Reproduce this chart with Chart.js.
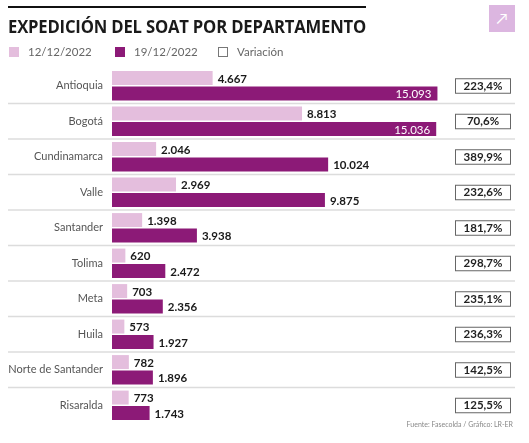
<!DOCTYPE html>
<html>
<head>
<meta charset="utf-8">
<script src="https://cdn.jsdelivr.net/npm/chart.js@4.4.0/dist/chart.umd.min.js"></script>
<style>
  html, body { margin: 0; padding: 0; background: #fff; }
  #wrap { position: relative; width: 529px; height: 443px; overflow: hidden; font-family: Lato, "Open Sans", sans-serif; }
  #topline { position: absolute; left: 8px; top: 6px; width: 358px; height: 2px; background: #111; }
  #title { position: absolute; left: 8px; top: 14px; font-family: "Open Sans", sans-serif; font-size: 18px; font-weight: 700; color: #1a1a1a; white-space: nowrap; transform-origin: left top; letter-spacing: -0.2px; }
  #btn { position: absolute; left: 489px; top: 5px; width: 26px; height: 27px; background: #dcb6e0; color: #fff; font-size: 15px; text-align: center; line-height: 27px; }
  .leg { position: absolute; top: 45px; font-size: 11.5px; color: #666; white-space: nowrap; }
  .leg i { display: inline-block; width: 10px; height: 10px; vertical-align: -1px; margin-right: 9px; box-sizing: border-box; }
  #foot { position: absolute; right: 16px; top: 420px; font-size: 7px; color: #888; white-space: nowrap; }
  #chartBox { position: absolute; left: 0; top: 0; width: 529px; height: 443px; }
</style>
</head>
<body>
<div id="wrap">
  <div id="chartBox"><canvas id="chart"></canvas></div>
  <div id="topline"></div>
  <div id="title">EXPEDICIÓN DEL SOAT POR DEPARTAMENTO</div>
  <div id="btn">&#8599;</div>
  <div class="leg" style="left:9px"><i style="background:#e4bedd"></i>12/12/2022</div>
  <div class="leg" style="left:115px"><i style="background:#8c1a77"></i>19/12/2022</div>
  <div class="leg" style="left:218px"><i style="border:1px solid #777;background:#fff"></i>Variación</div>
  <div id="foot">Fuente: Fasecolda / Gráfico: LR-ER</div>
</div>
<script>
// Expedición del SOAT por departamento
const departamentos = ['Antioquia', 'Bogotá', 'Cundinamarca', 'Valle', 'Santander', 'Tolima', 'Meta', 'Huila', 'Norte de Santander', 'Risaralda'];
const semana1 = [4667, 8813, 2046, 2969, 1398, 620, 703, 573, 782, 773];      // 12/12/2022
const semana2 = [15093, 15036, 10024, 9875, 3938, 2472, 2356, 1927, 1896, 1743]; // 19/12/2022
const variacion = ['223,4%', '70,6%', '389,9%', '232,6%', '181,7%', '298,7%', '235,1%', '236,3%', '142,5%', '125,5%'];

const LIGHT = '#e4bedd';
const DARK = '#8c1a77';

// fit title to the width of the black rule
const title = document.getElementById('title');
title.style.transform = 'scaleX(' + (358 / title.offsetWidth) + ')';

function fmt(v) {
    return v.toLocaleString('de-DE');
}

// row separators + value labels + variation boxes
const extrasPlugin = {
    id: 'extras',
    beforeDatasetsDraw(chart) {
        const ctx = chart.ctx;
        const y = chart.scales.y;
        ctx.save();
        ctx.strokeStyle = '#dcdcdc';
        ctx.lineWidth = 1.5;
        for (let i = 1; i < departamentos.length; i++) {
            const py = (y.getPixelForValue(i - 1) + y.getPixelForValue(i)) / 2;
            ctx.beginPath();
            ctx.moveTo(8, py);
            ctx.lineTo(515, py);
            ctx.stroke();
        }
        ctx.restore();
    },
    afterDatasetsDraw(chart) {
        const ctx = chart.ctx;
        const y = chart.scales.y;
        ctx.save();
        ctx.textBaseline = 'middle';

        chart.data.datasets.forEach((ds, di) => {
            chart.getDatasetMeta(di).data.forEach((bar, i) => {
                const v = ds.data[i];
                if (di === 1 && v > 12000) {
                    ctx.fillStyle = '#fff';
                    ctx.font = '400 11.5px Lato';
                    ctx.textAlign = 'right';
                    ctx.fillText(fmt(v), bar.x - 6, bar.y + 1);
                } else {
                    ctx.fillStyle = '#1a1a1a';
                    ctx.font = '700 11.5px Lato';
                    ctx.textAlign = 'left';
                    ctx.fillText(fmt(v), bar.x + 5, bar.y + 1);
                }
            });
        });

        ctx.font = '700 11.5px Lato';
        ctx.textAlign = 'center';
        variacion.forEach((t, i) => {
            const cy = y.getPixelForValue(i);
            ctx.fillStyle = '#fff';
            ctx.fillRect(455, cy - 7.5, 56, 15);
            ctx.strokeStyle = '#666';
            ctx.lineWidth = 1;
            ctx.strokeRect(455.5, cy - 7, 55, 14.5);
            ctx.fillStyle = '#222';
            ctx.fillText(t, 483, cy + 0.5);
        });
        ctx.restore();
    }
};

new Chart(document.getElementById('chart'), {
    type: 'bar',
    data: {
        labels: departamentos,
        datasets: [
            {
                label: '12/12/2022',
                data: semana1,
                backgroundColor: LIGHT,
                categoryPercentage: 0.865,
                barPercentage: 0.91
            },
            {
                label: '19/12/2022',
                data: semana2,
                backgroundColor: DARK,
                categoryPercentage: 0.865,
                barPercentage: 0.91
            }
        ]
    },
    options: {
        indexAxis: 'y',
        responsive: true,
        maintainAspectRatio: false,
        animation: false,
        layout: {
            padding: { top: 68, bottom: 20, right: 14, left: 0 }
        },
        plugins: {
            legend: { display: false },
            tooltip: { enabled: false }
        },
        scales: {
            x: {
                display: false,
                min: 0,
                max: 18690
            },
            y: {
                grid: { display: false, drawTicks: false },
                border: { display: false },
                afterFit: function(scale) {
                    scale.width = 112;
                },
                ticks: {
                    color: '#555',
                    padding: 9,
                    font: { family: 'Lato', size: 11 }
                }
            }
        }
    },
    plugins: [extrasPlugin]
});
</script>
</body>
</html>
